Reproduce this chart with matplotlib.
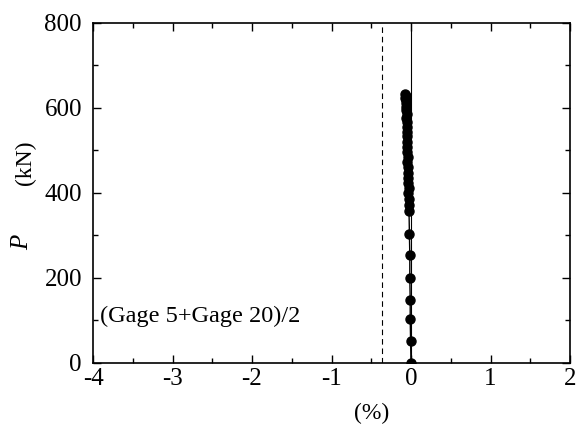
import numpy as np
import matplotlib.pyplot as plt
from matplotlib.ticker import MultipleLocator

plt.rcParams['font.family'] = ['Liberation Serif', 'DejaVu Serif']
plt.rcParams['axes.unicode_minus'] = False

# strain (%) and load P (kN)
strain = [0.0, -0.005, -0.01, -0.01, -0.015, -0.015, -0.02, -0.025, -0.03,
          -0.03, -0.035, -0.03, -0.035, -0.04, -0.035, -0.04, -0.045, -0.04,
          -0.045, -0.05, -0.045, -0.05, -0.055, -0.05, -0.055, -0.06, -0.055,
          -0.06, -0.065, -0.06, -0.065, -0.07, -0.065, -0.07]
load = [0, 51, 102, 146, 199, 252, 303, 356, 370, 385, 398, 410, 422, 435,
        447, 460, 472, 484, 496, 508, 520, 532, 543, 554, 565, 575, 585,
        594, 602, 610, 617, 623, 628, 632]

fig = plt.figure(figsize=(5.78, 4.30), dpi=100)
ax = fig.add_axes([93 / 578, 1 - 362.5 / 430, 477 / 578, 340 / 430])

ax.axvline(0, color='black', lw=0.8)
ax.axvline(-0.37, color='black', lw=0.8, ls=(0, (5, 3.5)))
ax.plot(strain, load, color='black', lw=1.0, marker='o', ms=6.5)

ax.set_xlim(-4, 2)
ax.set_ylim(0, 800)
ax.xaxis.set_major_locator(MultipleLocator(1))
ax.xaxis.set_minor_locator(MultipleLocator(0.5))
ax.yaxis.set_major_locator(MultipleLocator(200))
ax.yaxis.set_minor_locator(MultipleLocator(100))
ax.tick_params(which='both', direction='in', top=True, right=True, width=1)
ax.tick_params(which='major', length=5.5, labelsize=18)
ax.tick_params(which='minor', length=3.5)
ax.tick_params(axis='x', which='major', pad=4)
ax.tick_params(axis='y', which='major', pad=8)
for s in ax.spines.values():
    s.set_linewidth(1.2)

ax.text(-3.91, 109, '(Gage 5+Gage 20)/2', fontsize=17.5, va='center')

fig.text(372 / 578, 1 - 413 / 430, '(%)', fontsize=17, ha='center', va='center')
fig.text(22 / 578, 1 - 242 / 430, 'P', fontsize=18, style='italic',
         rotation=90, ha='center', va='center')
fig.text(25 / 578, 1 - 163 / 430, '(kN)', fontsize=17,
         rotation=90, ha='center', va='center')

fig.savefig('out.png', dpi=100)
